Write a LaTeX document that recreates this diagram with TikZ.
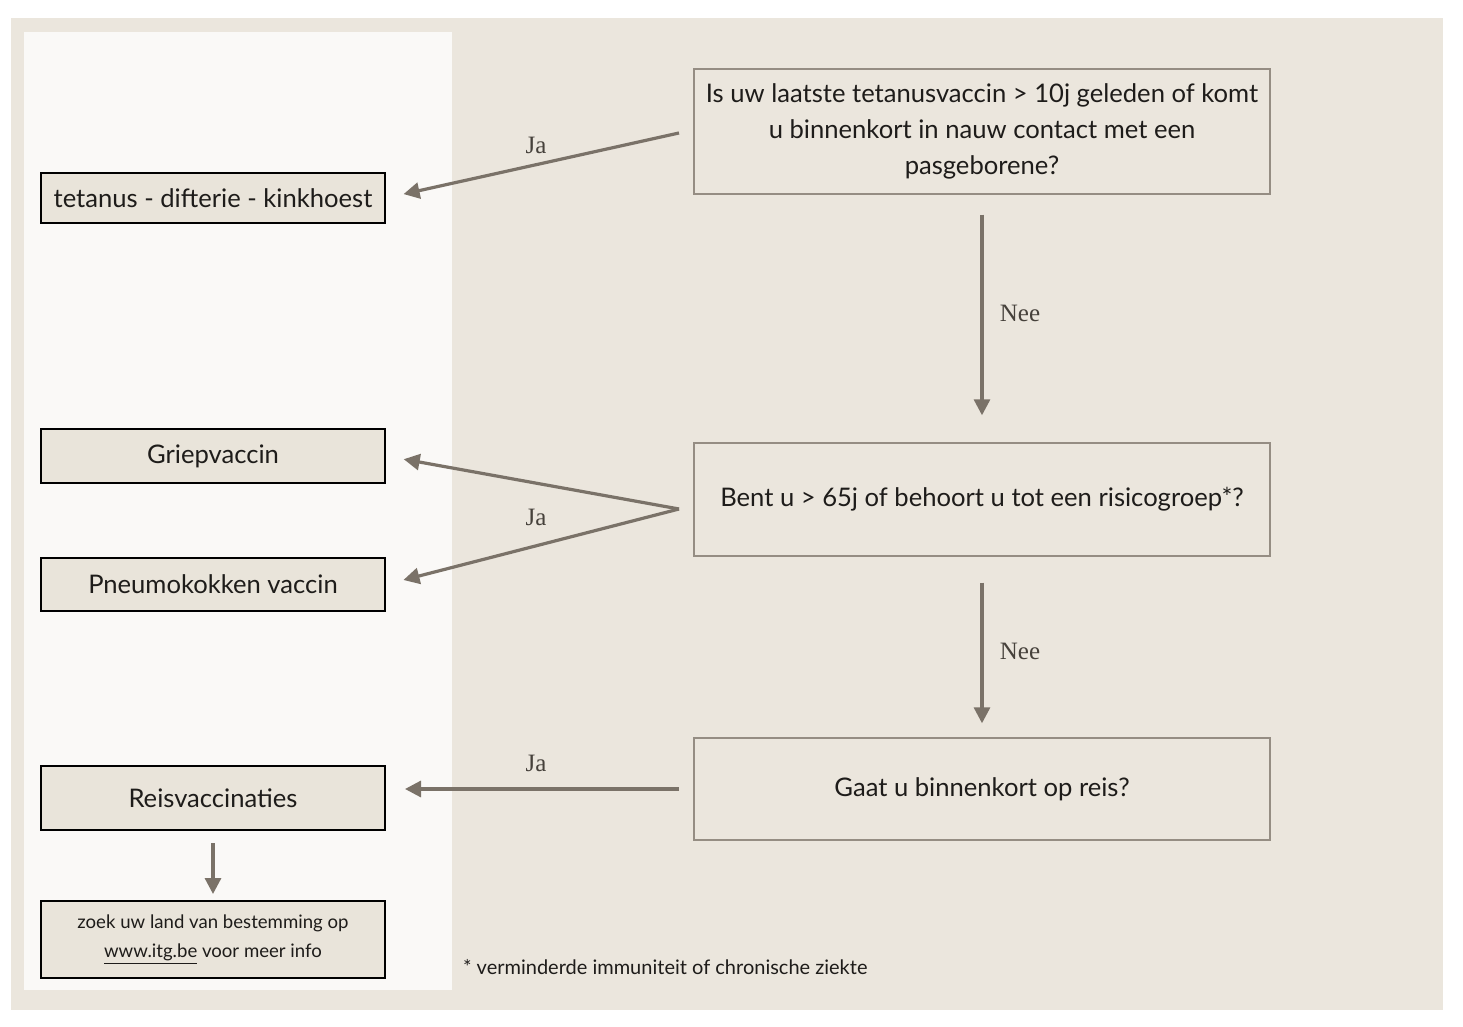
\documentclass[tikz,border=0pt]{standalone}
\usepackage{fontspec}
\setmainfont{Lato}
\newfontfamily\labelfont{Liberation Serif}
\usetikzlibrary{arrows.meta}
\definecolor{bgbeige}{HTML}{EBE6DD}
\definecolor{panel}{HTML}{FAF9F7}
\definecolor{boxfill}{HTML}{E9E4DA}
\definecolor{arrowc}{HTML}{7A7268}
\definecolor{qborder}{HTML}{958D83}
\definecolor{labelc}{HTML}{46413B}
\definecolor{txt}{HTML}{1E1C1A}
\tikzset{
  qbox/.style={draw=qborder, line width=0.7pt, fill=bgbeige, minimum width=288pt, inner sep=0pt, align=center, text=txt, font=\fontsize{12.8}{18}\selectfont},
  abox/.style={draw=black, line width=1pt, fill=boxfill, minimum width=172pt, inner sep=0pt, align=center, text=txt, font=\fontsize{12.8}{18}\selectfont},
  conn/.style={draw=arrowc, line width=1.6pt, -{Triangle[length=8pt,width=8pt]}},
  lbl/.style={text=labelc, font=\labelfont\fontsize{12.5}{14}\selectfont},
}
\begin{document}
\begin{tikzpicture}[x=0.5pt,y=-0.5pt]
\useasboundingbox (0,0) rectangle (1463,1027);
\fill[white] (0,0) rectangle (1463,1027);
\fill[bgbeige] (11,18) rectangle (1443,1010);
\fill[panel] (24,32) rectangle (452,990);

\node[qbox, minimum height=62.5pt] (q1) at (982,131.5) {\rule{0pt}{3pt}Is uw laatste tetanusvaccin > 10j geleden of komt\\u binnenkort in nauw contact met een\\pasgeborene?};
\node[qbox, minimum height=56.5pt] (q2) at (982,499.5) {Bent u > 65j of behoort u tot een risicogroep*?};
\node[qbox, minimum height=51pt] (q3) at (982,789) {Gaat u binnenkort op reis?};

\node[abox, minimum height=25pt] (tdk) at (213,198) {tetanus - difterie - kinkhoest};
\node[abox, minimum height=27pt] (griep) at (213,456) {Griepvaccin};
\node[abox, minimum height=26.5pt] (pneumo) at (213,584.5) {Pneumokokken vaccin};
\node[abox, minimum height=32pt] (reis) at (213,798) {Reisvaccinaties};
\node[abox, minimum height=38.5pt, font=\fontsize{9.3}{14.5}\selectfont] (zoek) at (213,939.5) {zoek uw land van bestemming op\\\underline{www.itg.be} voor meer info};

\coordinate (j1) at (679,133);
\coordinate (j2) at (679,509);
\coordinate (j3) at (679,789);

\draw[conn, shorten >=9pt] (j1) -- (tdk.east);
\draw[conn, shorten <=10pt, shorten >=13.5pt] (q1.south) -- (q2.north);
\draw[conn, shorten >=9pt] (j2) -- (griep.east);
\draw[conn, shorten >=9pt] (j2) -- (pneumo.east);
\draw[conn, shorten <=13pt, shorten >=7pt] (q2.south) -- (q3.north);
\draw[conn, shorten >=9.5pt] (j3) -- (reis.east |- j3);
\draw[conn, shorten <=6pt, shorten >=3pt] (reis.south) -- (zoek.north);

\node[lbl] (l1) at (536,145) {Ja};
\node[lbl] (l2) at (1020,313) {Nee};
\node[lbl] (l3) at (536,517) {Ja};
\node[lbl] (l4) at (1020,651) {Nee};
\node[lbl] (l5) at (536,763) {Ja};

\node[anchor=west, text=txt, font=\fontsize{10}{12}\selectfont] (fn) at (456,967) {* verminderde immuniteit of chronische ziekte};
\end{tikzpicture}
\end{document}
